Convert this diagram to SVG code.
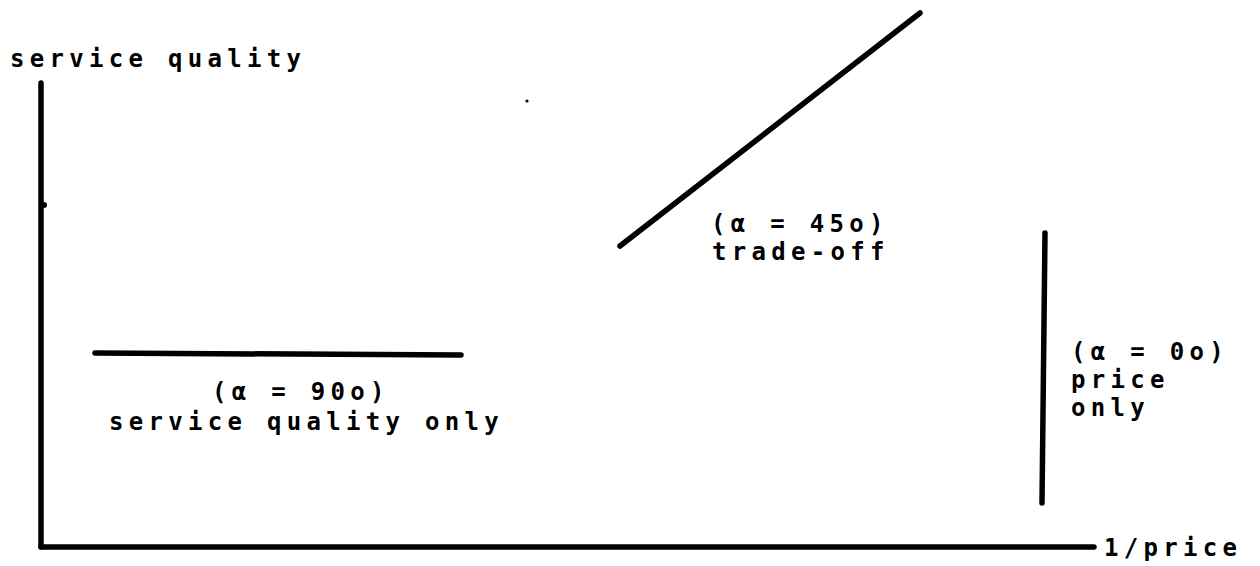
<svg xmlns="http://www.w3.org/2000/svg" width="1260" height="566" viewBox="0 0 1260 566">
<style>
text{font-family:"DejaVu Sans Mono","Liberation Mono",monospace;font-size:24px;font-weight:bold;fill:#000;letter-spacing:5.3px}
.ln{stroke:#000;stroke-width:5.5;stroke-linecap:round;fill:none}
</style>
<rect width="1260" height="566" fill="#fff"/>
<g id="axes">
<line class="ln" x1="41" y1="83" x2="41" y2="547"/>
<line class="ln" x1="41" y1="547" x2="1094" y2="547"/>
<circle cx="44" cy="205" r="3" fill="#000"/>
<text x="10" y="67">service quality</text>
<text x="1104" y="556">1/price</text>
</g>
<g id="connectors">
<line class="ln" x1="95" y1="353" x2="461" y2="355"/>
<line class="ln" x1="620" y1="246" x2="920" y2="13"/>
<line class="ln" x1="1045" y1="233" x2="1042" y2="503"/>
</g>
<circle cx="527" cy="101" r="1.6" fill="#000"/>
<g id="sq-only">
<text x="212" y="400">(α = 90o)</text>
<text x="109" y="430">service quality only</text>
</g>
<g id="trade-off">
<text x="711" y="232">(α = 45o)</text>
<text x="712" y="260">trade-off</text>
</g>
<g id="price-only">
<text x="1071" y="360">(α = 0o)</text>
<text x="1071" y="388">price</text>
<text x="1071" y="416">only</text>
</g>
</svg>
